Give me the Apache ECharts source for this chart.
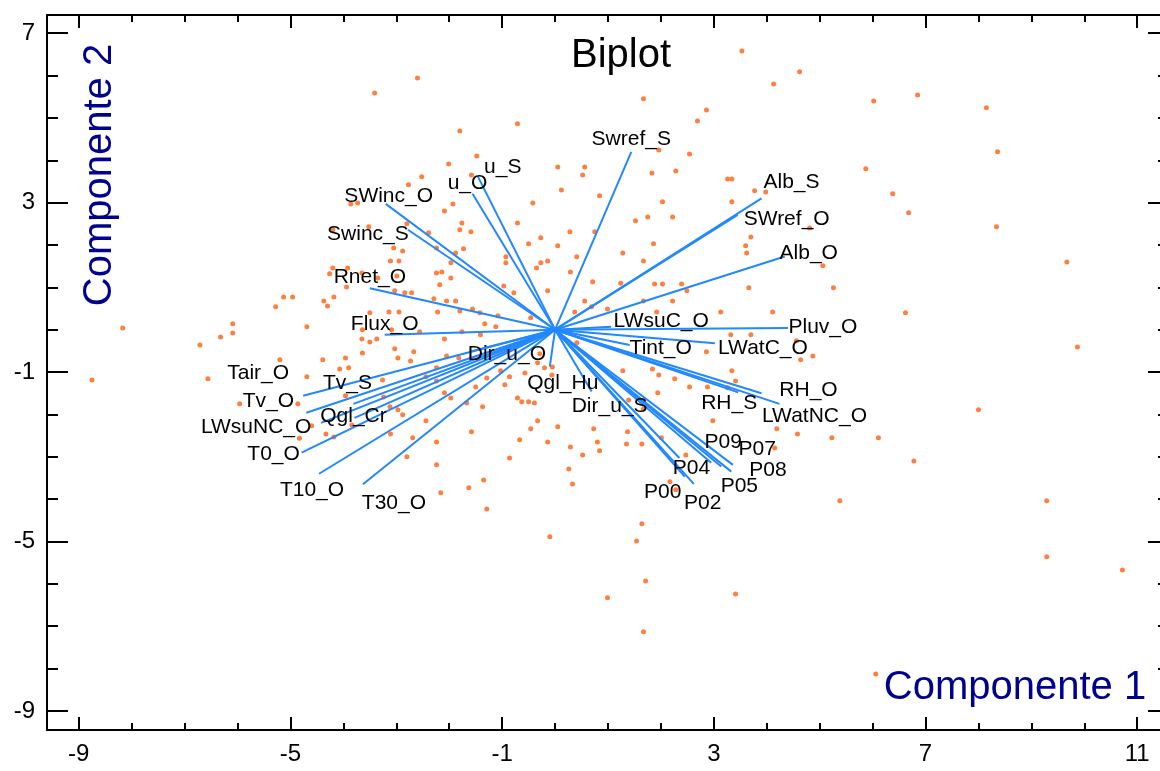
<!DOCTYPE html>
<html>
<head>
<meta charset="utf-8">
<script src="https://cdn.jsdelivr.net/npm/echarts@6/dist/echarts.min.js"></script>
<style>
  html, body { margin: 0; padding: 0; background: #fff; }
  #chart { width: 1160px; height: 771px; }
</style>
</head>
<body>
<div id="chart"></div>
<script>
// Tick labels of both component axes
const xTickValues = [-9, -5, -1, 3, 7, 11];
const yTickValues = [-9, -5, -1, 3, 7];

// Variable loadings (vector tips) on component 1 and component 2
const varNames = ['Swref_S','Alb_S','SWref_O','Alb_O','Pluv_O','LWsuC_O','Tint_O','LWatC_O',
  'RH_O','RH_S','LWatNC_O','P09','P07','P08','P05','P04','P00','P02','Dir_u_S','Qgl_Hu',
  'Dir_u_O','Qgl_Cr','Tv_S','Tair_O','Tv_O','LWsuNC_O','T0_O','T10_O','T30_O','Flux_O',
  'Rnet_O','Swinc_S','SWinc_O','u_O','u_S'];
const loadC1 = [1.44, 3.90, 3.45, 4.34, 4.40, 1.06, 1.41, 3.02,
  3.90, 3.46, 4.24, 2.95, 3.14, 3.36, 3.33, 2.35, 2.45, 2.62, 0.69, -0.10,
  -1.61, -3.79, -3.81, -4.76, -4.70, -4.42, -4.79, -4.46, -3.63, -3.22,
  -3.50, -2.78, -3.20, -1.56, -1.46];
const loadC2 = [4.20, 3.10, 2.71, 1.73, 0.04, 0.07, -0.36, -0.32,
  -1.50, -1.48, -1.75, -3.14, -3.23, -3.19, -3.35, -3.03, -3.47, -3.64, -1.46, -0.87,
  -0.52, -2.08, -1.75, -1.56, -1.96, -2.20, -2.90, -3.40, -3.65, -0.12,
  0.98, 2.36, 2.97, 3.21, 3.62];

// Observation scores [component 1, component 2]
const scores = [
  [3.53,6.58],[4.62,6.09],[-2.60,5.94],[-3.41,5.59],[4.13,5.80],[1.67,5.45],[6.02,5.40],[6.85,5.54],
  [8.15,5.24],[2.86,5.19],[2.69,4.93],[-1.80,4.69],[-0.71,4.86],[8.36,4.20],[2.54,4.15],[1.96,4.24],
  [-1.48,4.10],[-2.01,3.91],[-2.52,3.61],[-1.58,3.65],[-2.77,3.42],[0.05,3.84],[0.56,3.84],[0.52,3.65],
  [0.12,3.30],[0.84,3.16],[2.28,3.75],[1.83,3.70],[3.26,3.56],[3.34,3.56],[3.77,3.28],[3.98,3.25],
  [5.87,3.80],[6.38,3.21],[6.68,2.76],[8.34,2.43],[9.67,1.60],[-3.86,2.97],[-3.73,2.99],[-1.93,2.97],
  [-2.09,2.80],[-0.42,2.99],[3.34,3.02],[2.03,3.02],[1.75,2.66],[1.52,2.57],[2.22,2.66],[3.70,2.19],
  [3.60,1.98],[3.62,1.81],[4.81,2.40],[5.06,1.51],[5.26,0.99],[3.66,0.99],[4.11,0.42],[4.56,-0.26],
  [4.87,-0.62],[4.64,-0.71],[6.62,0.40],[9.87,-0.41],[-3.52,2.43],[-4.20,2.36],[-3.05,1.93],[-2.88,1.86],
  [-3.11,1.62],[-2.95,1.62],[-4.20,1.46],[-3.92,1.46],[-4.26,1.32],[-3.65,1.34],[-3.35,1.22],[-2.99,1.27],
  [-3.94,1.01],[-3.03,0.92],[-2.84,0.87],[-2.71,0.87],[-5.13,0.77],[-4.96,0.77],[-5.28,0.54],[-4.37,0.68],
  [-4.18,0.77],[-4.30,0.56],[-3.50,0.40],[-3.14,0.42],[-2.95,0.42],[-4.69,0.07],[-6.09,0.14],[-6.09,-0.08],
  [-6.32,-0.17],[-6.71,-0.36],[-3.09,0.00],[-3.64,0.00],[-3.65,-0.22],[-3.50,-0.29],[-3.37,-0.22],[-3.03,-0.45],
  [-8.17,0.04],[-8.75,-1.19],[-6.56,-1.16],[-5.96,-1.75],[-5.20,-0.71],[-4.69,-1.11],[-4.39,-0.71],[-4.86,-1.75],
  [-4.60,-2.27],[-4.33,-2.46],[-4.18,-2.53],[-4.83,-2.56],[-4.07,-0.93],[-3.96,-0.67],[-3.90,-0.90],[-3.64,-0.55],
  [-2.97,-0.67],[-2.67,-0.52],[-2.73,-0.74],[-2.09,-0.22],[-2.05,-0.62],[-1.82,-0.67],[-2.44,-1.11],[-2.24,-0.90],
  [-2.24,-1.21],[-3.26,-1.19],[-3.24,-1.59],[-3.12,-1.82],[-2.97,-1.89],[-2.88,-2.01],[-3.96,-1.56],[-3.84,-2.25],
  [-3.11,-2.46],[-2.69,-2.55],[-2.44,-2.15],[-2.24,-2.65],[-2.09,-1.49],[-1.97,-1.61],[-1.67,-1.73],[-1.58,-2.41],
  [-1.37,-1.82],[-1.50,-1.35],[-1.29,-1.14],[-1.03,-0.97],[-0.86,-1.11],[-0.95,-1.30],[-0.71,-1.61],[-0.63,-1.70],
  [-0.50,-1.70],[-0.39,-1.73],[-0.33,-2.15],[-0.67,-2.60],[-0.46,-2.34],[-0.14,-2.65],[0.05,-2.29],[-0.86,-3.03],
  [-1.35,-3.55],[-1.63,-3.73],[-2.24,-3.19],[-2.80,-3.00],[-2.16,-3.85],[-1.29,-4.23],[-0.33,-0.78],[-0.20,-0.90],
  [-0.06,-1.07],[-0.05,-0.88],[-0.29,-0.57],[0.41,-0.31],[-0.57,-1.02],[0.29,-2.77],[0.52,-2.96],[0.73,-2.34],
  [0.80,-2.65],[0.84,-2.86],[0.26,-3.29],[0.33,-3.64],[1.37,-2.41],[1.35,-2.70],[1.64,-2.70],[2.01,-2.55],
  [2.47,-2.96],[2.17,-3.59],[2.28,-3.78],[1.64,-4.58],[1.28,-0.97],[1.84,-0.93],[1.96,-1.07],[2.26,-1.16],
  [1.94,-1.49],[2.54,-1.35],[2.88,-1.35],[1.39,-1.66],[1.67,-1.87],[2.98,-2.15],[3.34,-0.97],[3.41,-1.21],
  [3.26,-1.37],[2.86,-0.52],[3.32,-0.12],[3.70,-0.12],[4.19,-2.34],[4.58,-2.46],[5.23,-2.55],[6.11,-2.55],
  [5.38,-4.04],[4.15,-2.79],[-0.10,-4.89],[1.54,-4.99],[1.71,-5.93],[0.99,-6.33],[3.41,-6.24],[1.67,-7.13],
  [6.06,-8.13],[10.72,-5.67],[9.29,-5.36],[9.29,-4.04],[8.00,-1.89],[6.78,-3.10],[0.28,2.31],[0.75,2.31],
  [-0.27,2.17],[-0.50,2.03],[0.05,1.98],[0.41,1.72],[-1.88,1.81],[-1.73,1.91],[-0.93,1.72],[-0.93,1.58],
  [-0.14,1.62],[-0.27,1.58],[-0.35,1.46],[-1.97,1.58],[-2.14,1.36],[-2.24,1.34],[-1.97,1.22],[-2.18,1.06],
  [0.71,1.13],[0.29,1.36],[-0.14,0.92],[-0.78,0.87],[-0.97,1.03],[0.56,0.68],[0.69,0.54],[0.37,0.42],
  [-2.29,0.73],[-2.05,0.68],[-1.88,0.68],[-1.56,0.49],[-1.42,0.40],[-1.08,0.33],[-1.33,0.14],[-1.12,0.07],
  [-0.46,0.28],[-2.22,0.42],[-1.80,0.44],[-2.56,-0.05],[-1.76,-0.05],[-1.41,-0.12],[-2.80,2.50],[-2.39,2.29],
  [-1.76,2.52],[-1.59,2.31],[-1.80,2.36],[-0.71,2.52],[1.86,2.03],[1.28,1.81],[1.67,1.62],[1.24,1.10],
  [1.88,1.08],[2.03,1.08],[2.39,1.08],[2.49,0.92],[0.99,0.49],[1.67,0.68],[2.22,0.68],[1.92,0.42],
  [3.13,0.42],[-2.24,1.93]
];

// Where each vector's name sits relative to its tip, in pixels [dx, dy]
const labelOffset = {
  Swref_S:[0,-13], Alb_S:[30,-16], SWref_O:[49,4], Alb_O:[24,-3], Pluv_O:[35,-1],
  LWsuC_O:[50,-6], Tint_O:[31,3], LWatC_O:[48,5], RH_O:[47,-3], RH_S:[-9,11],
  LWatNC_O:[35,12], P09:[12,-21], P07:[36,-17], P08:[35,5], P05:[8,15], P04:[12,10],
  P00:[-22,16], P02:[9,19], Dir_u_S:[18,15], Qgl_Hu:[13,17], Dir_u_O:[37,2],
  Qgl_Cr:[-1,-2], Tv_S:[-6,-21], Tair_O:[-45,-23], Tv_O:[-38,-12], LWsuNC_O:[-65,4],
  T0_O:[-28,2], T10_O:[-7,16], T30_O:[31,19], Flux_O:[0,-11], Rnet_O:[0,-11],
  Swinc_S:[-40,4], SWinc_O:[3,-8], u_O:[-5,-11], u_S:[25,-9]
};

const FONT = '"Liberation Sans", Arial, Helvetica, sans-serif';
const X_RANGE = [-9.6, 11.6];
const Y_RANGE = [-9.45, 7.43];
const VEC_COLOR = '#2288ff';
const PT_COLOR = '#ff7f40';
const AXIS_TITLE_COLOR = '#000090';

function intsBetween(a, b, exclude) {
  const out = [];
  for (let v = a; v <= b; v++) if (!exclude.includes(v)) out.push(v);
  return out;
}
const xMinor = intsBetween(-9, 11, xTickValues);
const yMinor = intsBetween(-9, 7, yTickValues);

function makeAxis(position, range, values, tickLen, showLine, showLabel) {
  return {
    type: 'value',
    position: position,
    min: range[0],
    max: range[1],
    axisLine: { show: showLine, onZero: false, lineStyle: { color: '#000', width: 2 } },
    axisTick: { show: true, inside: true, length: tickLen, customValues: values,
                lineStyle: { color: '#000', width: 2 } },
    axisLabel: { show: showLabel, customValues: values, color: '#000', fontSize: 24,
                 fontFamily: FONT, margin: 12 },
    splitLine: { show: false },
    minorTick: { show: false },
    minorSplitLine: { show: false }
  };
}

const vectorSeries = varNames.map((name, i) => ({
  type: 'line',
  name: name,
  xAxisIndex: 0,
  yAxisIndex: 0,
  data: [[0, 0], [loadC1[i], loadC2[i]]],
  symbol: 'none',
  lineStyle: { color: VEC_COLOR, width: 2 },
  z: 3,
  silent: true,
  animation: false
}));

const labelSeries = {
  type: 'scatter',
  xAxisIndex: 0,
  yAxisIndex: 0,
  symbolSize: 0.1,
  itemStyle: { color: 'rgba(0,0,0,0)' },
  z: 5,
  silent: true,
  animation: false,
  data: varNames.map((name, i) => ({ name: name, value: [loadC1[i], loadC2[i]] })),
  label: {
    show: true,
    position: 'inside',
    formatter: '{b}',
    color: '#000',
    opacity: 1,
    textBorderWidth: 0,
    textShadowBlur: 0,
    fontSize: 21,
    fontFamily: FONT,
    align: 'center',
    verticalAlign: 'middle'
  },
  labelLayout: function (p) {
    const o = labelOffset[varNames[p.dataIndex]] || [0, 0];
    return { dx: o[0], dy: o[1], hideOverlap: false, moveOverlap: null };
  }
};

const option = {
  backgroundColor: '#fff',
  animation: false,
  grid: { left: 47, top: 15, width: 1122, height: 715, containLabel: false, outerBoundsMode: 'none' },
  xAxis: [
    makeAxis('bottom', X_RANGE, xTickValues, 13, true, true),
    makeAxis('bottom', X_RANGE, xMinor, 7, false, false),
    makeAxis('top', X_RANGE, xTickValues, 13, true, false),
    makeAxis('top', X_RANGE, xMinor, 7, false, false)
  ],
  yAxis: [
    makeAxis('left', Y_RANGE, yTickValues, 21, true, true),
    makeAxis('left', Y_RANGE, yMinor, 11, false, false),
    makeAxis('right', Y_RANGE, yTickValues, 21, true, false),
    makeAxis('right', Y_RANGE, yMinor, 11, false, false)
  ],
  graphic: [
    { type: 'text', x: 621, y: 56, z: 10,
      style: { text: 'Biplot', fill: '#000', font: '40px ' + FONT,
               textAlign: 'center', textVerticalAlign: 'middle' } },
    { type: 'text', x: 100, y: 175, rotation: Math.PI / 2, z: 10,
      style: { text: 'Componente 2', fill: AXIS_TITLE_COLOR, font: '40px ' + FONT,
               textAlign: 'center', textVerticalAlign: 'middle' } },
    { type: 'text', x: 1015, y: 688, z: 10,
      style: { text: 'Componente 1', fill: AXIS_TITLE_COLOR, font: '40px ' + FONT,
               textAlign: 'center', textVerticalAlign: 'middle' } }
  ],
  series: [
    {
      type: 'scatter',
      name: 'scores',
      xAxisIndex: 0,
      yAxisIndex: 0,
      data: scores,
      symbol: 'circle',
      symbolSize: 5,
      itemStyle: { color: PT_COLOR, opacity: 1 },
      z: 2,
      silent: true
    },
    ...vectorSeries,
    labelSeries
  ]
};

const chart = echarts.init(document.getElementById('chart'), null, { renderer: 'canvas' });
chart.setOption(option);
</script>
</body>
</html>
